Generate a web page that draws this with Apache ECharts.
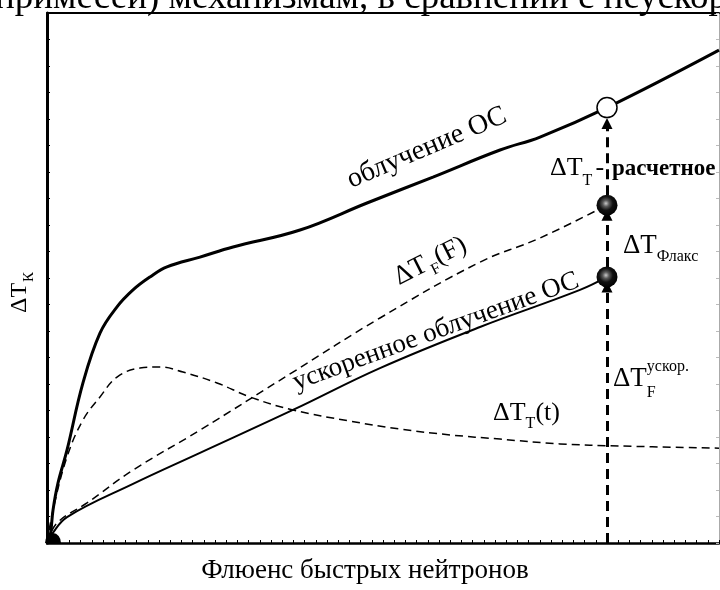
<!DOCTYPE html>
<html>
<head>
<meta charset="utf-8">
<script src="https://cdn.jsdelivr.net/npm/echarts@6/dist/echarts.min.js"></script>
<style>
  html, body { margin: 0; padding: 0; background: #fff; }
  #chart { width: 720px; height: 590px; }
</style>
</head>
<body>
<div id="chart"></div>
<script>
// Fluence axis: 0..60 (one minor tick per unit); ΔT axis: 0..20 (one tick per unit).

// облучение ОС (regular irradiation)
const irradX = [0, 0.27, 0.54, 0.98, 1.79, 3.21, 4.73, 6.25, 7.68, 9.2, 10.71, 13.66, 16.61, 22.59, 28.57, 34.46, 40.45, 44.02, 50, 60];
const irradY = [0, 0.23, 1.25, 2.26, 3.51, 6.04, 7.92, 8.91, 9.55, 10.04, 10.42, 10.79, 11.17, 11.81, 12.83, 13.81, 14.83, 15.32, 16.43, 18.6];

// ускоренное облучение ОС (accelerated irradiation)
const accelX = [0, 0.45, 1.79, 7.68, 13.66, 21.96, 29.73, 38.66, 47.59, 50];
const accelY = [0, 0.34, 0.98, 2.23, 3.40, 5.02, 6.60, 8.15, 9.55, 10.04];

// ΔT_F(F)
const dtfX = [0, 0.89, 3.57, 7.68, 13.66, 21.96, 29.73, 38.66, 44.02, 50];
const dtfY = [0, 0.75, 1.51, 2.75, 4.26, 6.45, 8.49, 10.6, 11.51, 12.75];

// ΔT_T(t)
const dttX = [0, 0.54, 1.79, 3.21, 4.73, 6.25, 8.30, 10.09, 12.14, 15.18, 18.13, 21.96, 27.05, 31.52, 35.98, 40.45, 45.80, 51.16, 60];
const dttY = [0, 1.25, 3.25, 4.64, 5.51, 6.26, 6.60, 6.64, 6.45, 6.04, 5.51, 5.02, 4.60, 4.30, 4.08, 3.92, 3.74, 3.66, 3.58];

// Comparison fluence and the three levels marked on it
const probeF = 50;
const probeAccel = 10.04;
const probeDtf = 12.75;
const probeCalc = 16.43;

const zip = (xs, ys) => xs.map((x, i) => [x, ys[i]]);

const FONT = '"Liberation Serif", "Times New Roman", serif';
const mctx = document.createElement('canvas').getContext('2d');
function textWidth(t, size, bold) {
  mctx.font = (bold ? 'bold ' : '') + size + 'px ' + FONT;
  return mctx.measureText(t).width;
}

// Formula-like label: parts laid out along a common baseline starting at (x, y).
// dy shifts a part's baseline (positive = down), stack keeps the pen position.
function mathText(x, y, deg, parts) {
  let cx = 0;
  const children = [];
  parts.forEach(p => {
    const dx = p.dx || 0;
    children.push({
      type: 'text',
      x: cx + dx,
      y: (p.dy || 0) - 0.34 * p.s,
      style: {
        text: p.t, fill: '#000', fontFamily: FONT, fontSize: p.s,
        fontWeight: p.bold ? 'bold' : 'normal', align: 'left', verticalAlign: 'middle'
      }
    });
    if (!p.stack) cx += dx + textWidth(p.t, p.s, p.bold);
  });
  return { type: 'group', x: x, y: y, rotation: deg * Math.PI / 180, children: children, z: 20 };
}

const chart = echarts.init(document.getElementById('chart'), null, { renderer: 'canvas' });

const yPerPx = 20 / 530;
const rBall = 10 * yPerPx;

const option = {
  animation: false,
  backgroundColor: '#fff',
  grid: { left: 47, top: 13, right: 1, bottom: 47 },
  xAxis: [
    {
      type: 'value', min: 0, max: 60, interval: 1, position: 'bottom',
      axisLine: { show: true, onZero: false, lineStyle: { color: '#000', width: 2.5 } },
      axisTick: { show: true, inside: true, length: 3, lineStyle: { color: '#000', width: 1 } },
      axisLabel: { show: false }, splitLine: { show: false }
    },
    {
      type: 'value', min: 0, max: 60, position: 'top',
      axisLine: { show: true, onZero: false, lineStyle: { color: '#000', width: 2 } },
      axisTick: { show: false }, axisLabel: { show: false }, splitLine: { show: false }
    }
  ],
  yAxis: [
    {
      type: 'value', min: 0, max: 20, interval: 1, position: 'left',
      axisLine: { show: true, onZero: false, lineStyle: { color: '#000', width: 3 } },
      axisTick: { show: true, inside: true, length: 3, lineStyle: { color: '#000', width: 1 } },
      axisLabel: { show: false }, splitLine: { show: false }
    },
    {
      type: 'value', min: 0, max: 20, interval: 1, position: 'right',
      axisLine: { show: true, onZero: false, lineStyle: { color: '#aaa', width: 1 } },
      axisTick: { show: true, inside: true, length: 3, lineStyle: { color: '#bbb', width: 1 } },
      axisLabel: { show: false }, splitLine: { show: false }
    }
  ],
  series: [
    {
      name: 'облучение ОС', type: 'line', data: zip(irradX, irradY),
      smooth: 0.4, showSymbol: false, symbol: 'none',
      lineStyle: { color: '#000', width: 3 }, z: 3
    },
    {
      name: 'ускоренное облучение ОС', type: 'line', data: zip(accelX, accelY),
      smooth: 0.4, showSymbol: false, symbol: 'none',
      lineStyle: { color: '#000', width: 2 }, z: 3
    },
    {
      name: 'ΔT_F(F)', type: 'line', data: zip(dtfX, dtfY),
      smooth: 0.4, showSymbol: false, symbol: 'none',
      lineStyle: { color: '#000', width: 1.5, type: [8, 5] }, z: 3
    },
    {
      name: 'ΔT_T(t)', type: 'line', data: zip(dttX, dttY),
      smooth: 0.4, showSymbol: false, symbol: 'none',
      lineStyle: { color: '#000', width: 1.5, type: [8, 5] }, z: 3
    },
    {
      name: 'arrows', type: 'lines', coordinateSystem: 'cartesian2d',
      symbol: ['none', 'triangle'], symbolSize: 11,
      lineStyle: { color: '#000', width: 3, type: [10, 6], opacity: 1, curveness: 0 },
      data: [
        { coords: [[probeF, 0], [probeF, probeAccel - rBall]] },
        { coords: [[probeF, probeAccel + rBall], [probeF, probeDtf - rBall]] },
        { coords: [[probeF, probeDtf + rBall], [probeF, probeCalc - rBall - 6 * yPerPx]] }
      ],
      z: 4
    },
    {
      name: 'balls', type: 'scatter', data: [[probeF, probeAccel], [probeF, probeDtf]],
      symbol: 'circle', symbolSize: 21,
      itemStyle: {
        opacity: 1,
        color: {
          type: 'radial', x: 0.45, y: 0.42, r: 0.6,
          colorStops: [
            { offset: 0, color: '#c8c8c8' },
            { offset: 0.25, color: '#5a5a5a' },
            { offset: 0.55, color: '#111' },
            { offset: 1, color: '#000' }
          ]
        }
      },
      z: 6
    },
    {
      name: 'calc', type: 'scatter', data: [[probeF, probeCalc]],
      symbol: 'circle', symbolSize: 20,
      itemStyle: { opacity: 1, color: '#fff', borderColor: '#000', borderWidth: 1.5 }, z: 6
    },
    {
      name: 'origin', type: 'scatter', data: [[0, 0]],
      symbol: 'path://M0,10 A10,10 0 0 1 20,10 Z', symbolSize: [16, 10], symbolOffset: [6, -5],
      symbolKeepAspect: false,
      itemStyle: { opacity: 1, color: '#000' }, z: 6
    }
  ],
  graphic: [
    {
      type: 'text', x: -5, y: 11 - 0.34 * 37, z: 20,
      style: { text: 'примесей) механизмам, в сравнении с неускоренным', fill: '#000',
        fontFamily: FONT, fontSize: 37, align: 'left', verticalAlign: 'middle' }
    },
    mathText(28, 313, 90, [{ t: 'ΔT', s: 24 }, { t: 'К', s: 15, dy: 6, dx: 1 }]),
    {
      type: 'text', x: 365, y: 580 - 0.34 * 27, z: 20,
      style: { text: 'Флюенс быстрых нейтронов', fill: '#000', fontFamily: FONT, fontSize: 27,
        align: 'center', verticalAlign: 'middle' }
    },
    mathText(352, 190, 23, [{ t: 'облучение ОС', s: 28 }]),
    mathText(400, 287, 27, [{ t: 'ΔT', s: 27 }, { t: 'F', s: 16, dy: 6, dx: 2 }, { t: '(F)', s: 27 }]),
    mathText(297, 392, 20, [{ t: 'ускоренное облучение ОС', s: 27 }]),
    mathText(550, 177, 0, [
      { t: 'ΔT', s: 26 }, { t: 'T', s: 16, dy: 9 }, { t: '-', s: 26, dx: 3 },
      { t: 'расчетное', s: 23, bold: true, dx: 8 }
    ]),
    mathText(623, 255, 0, [{ t: 'ΔT', s: 27 }, { t: 'Флакс', s: 16, dy: 7 }]),
    mathText(613, 388, 0, [
      { t: 'ΔT', s: 27 }, { t: 'ускор.', s: 16, dy: -16, stack: true }, { t: 'F', s: 16, dy: 10 }
    ]),
    mathText(493, 422, 0, [{ t: 'ΔT', s: 26 }, { t: 'T', s: 16, dy: 7 }, { t: '(t)', s: 26 }])
  ]
};

chart.setOption(option);
</script>
</body>
</html>
